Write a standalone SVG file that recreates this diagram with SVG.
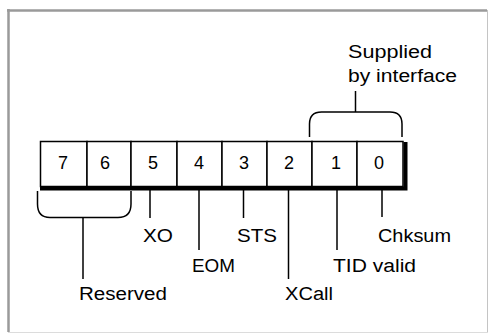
<svg xmlns="http://www.w3.org/2000/svg" width="488" height="333" viewBox="0 0 488 333">
<style>
  text { font-family: "Liberation Sans", Arial, sans-serif; font-size: 18px; fill: #000; }
  .digit { text-anchor: middle; }
  .ln { stroke: #000; stroke-width: 1.5; fill: none; }
  .cell { stroke: #000; stroke-width: 1.5; fill: #fff; }
</style>
<rect width="488" height="333" fill="#fff"/>
<g id="frame">
  <line x1="8.5" y1="9" x2="8.5" y2="332" stroke="#9a9a9a" stroke-width="2.5"/>
  <line x1="7" y1="10.5" x2="487" y2="10.5" stroke="#9a9a9a" stroke-width="2.5"/>
  <line x1="487.5" y1="10" x2="487.5" y2="333" stroke="#c4c4c4" stroke-width="1"/>
  <line x1="8" y1="332.5" x2="488" y2="332.5" stroke="#dcdcdc" stroke-width="1"/>
</g>
<g id="register">
  <g id="bit7"><rect class="cell" x="40.5" y="141.5" width="46.5" height="45"/><text class="digit" x="63" y="169">7</text></g>
  <g id="bit6"><rect class="cell" x="87" y="141.5" width="44" height="45"/><text class="digit" x="105" y="169">6</text></g>
  <g id="bit5"><rect class="cell" x="131" y="141.5" width="46" height="45"/><text class="digit" x="153" y="169">5</text></g>
  <g id="bit4"><rect class="cell" x="177" y="141.5" width="45" height="45"/><text class="digit" x="199" y="169">4</text></g>
  <g id="bit3"><rect class="cell" x="222" y="141.5" width="45" height="45"/><text class="digit" x="244" y="169">3</text></g>
  <g id="bit2"><rect class="cell" x="267" y="141.5" width="45" height="45"/><text class="digit" x="289" y="169">2</text></g>
  <g id="bit1"><rect class="cell" x="312" y="141.5" width="45" height="45"/><text class="digit" x="336" y="169">1</text></g>
  <g id="bit0"><rect class="cell" x="357" y="141.5" width="46" height="45"/><text class="digit" x="379" y="169">0</text></g>
  <path d="M40,188.5 H405.5 V142" stroke="#000" stroke-width="4" fill="none"/>
</g>
<g id="label-supplied">
  <text x="348" y="58" textLength="84" lengthAdjust="spacingAndGlyphs">Supplied</text>
  <text x="348" y="82" textLength="109" lengthAdjust="spacingAndGlyphs">by interface</text>
</g>
<g id="label-xo"><text x="143" y="242" textLength="30" lengthAdjust="spacingAndGlyphs">XO</text></g>
<g id="label-sts"><text x="237" y="242" textLength="40" lengthAdjust="spacingAndGlyphs">STS</text></g>
<g id="label-chksum"><text x="378" y="242" textLength="73" lengthAdjust="spacingAndGlyphs">Chksum</text></g>
<g id="label-eom"><text x="192" y="272" textLength="43" lengthAdjust="spacingAndGlyphs">EOM</text></g>
<g id="label-tid"><text x="333" y="272" textLength="83" lengthAdjust="spacingAndGlyphs">TID valid</text></g>
<g id="label-reserved"><text x="79" y="300" textLength="88" lengthAdjust="spacingAndGlyphs">Reserved</text></g>
<g id="label-xcall"><text x="285" y="300" textLength="48" lengthAdjust="spacingAndGlyphs">XCall</text></g>
<g id="connectors">
  <path class="ln" d="M309.5,137 V124 Q309.5,112 321.5,112 H390 Q402,112 402,124 V137"/>
  <path class="ln" d="M355.5,112 V91"/>
  <path class="ln" d="M37.5,191 V204 Q37.5,217.5 50,217.5 H118 Q131,217.5 131,204 V191"/>
  <path class="ln" d="M83,217.5 V279"/>
  <path class="ln" d="M150,190 V218"/>
  <path class="ln" d="M199,190 V250"/>
  <path class="ln" d="M243.5,190 V218"/>
  <path class="ln" d="M288.5,190 V279"/>
  <path class="ln" d="M337,190 V250"/>
  <path class="ln" d="M382,190 V217"/>
</g>
</svg>
